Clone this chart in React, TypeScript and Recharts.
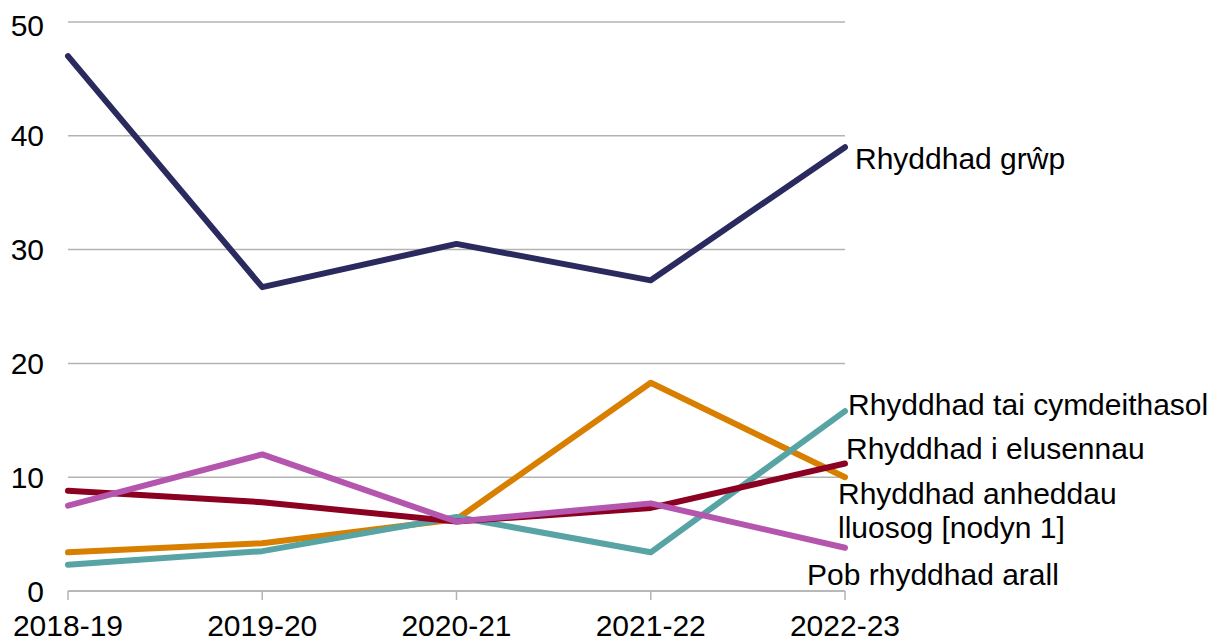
import React from "react";
import { LineChart, Line, XAxis, YAxis, CartesianGrid } from "recharts";

const years = ["2018-19", "2019-20", "2020-21", "2021-22", "2022-23"];
const grwp = [47, 26.7, 30.5, 27.3, 39];
const anheddau = [3.4, 4.2, 6.3, 18.3, 10];
const taiCymdeithasol = [2.3, 3.5, 6.5, 3.4, 15.8];
const elusennau = [8.8, 7.8, 6.1, 7.3, 11.2];
const arall = [7.5, 12, 6.1, 7.7, 3.8];
const yTicks = [0, 10, 20, 30, 40, 50];

const data = years.map((y, i) => ({
  year: y,
  grwp: grwp[i],
  anheddau: anheddau[i],
  tai: taiCymdeithasol[i],
  elusennau: elusennau[i],
  arall: arall[i],
}));

const FONT = "'Liberation Sans', Arial, sans-serif";
const FS = 30;

const series = [
  { key: "grwp", color: "#2b2a5e", label: ["Rhyddhad grŵp"], dx: 10, dy: 11 },
  { key: "anheddau", color: "#d97f00", label: ["Rhyddhad anheddau", "lluosog [nodyn 1]"], dx: -7, dy: 16 },
  { key: "tai", color: "#58a4a4", label: ["Rhyddhad tai cymdeithasol"], dx: 3, dy: -7 },
  { key: "elusennau", color: "#8c0022", label: ["Rhyddhad i elusennau"], dx: 1, dy: -16 },
  { key: "arall", color: "#b455ae", label: ["Pob rhyddhad arall"], dx: -38, dy: 26 },
];

const makeLabel = (s: any) => (props: any) => {
  const { x, y, index } = props;
  if (index !== years.length - 1) return null;
  return (
    <text
      key={s.key + "lbl"}
      x={x + s.dx}
      y={y + s.dy}
      fontSize={FS}
      fontFamily={FONT}
      fill="#000"
      dominantBaseline="central"
    >
      {s.label.map((l: string, i: number) => (
        <tspan key={i} x={x + s.dx} dy={i === 0 ? 0 : 34}>
          {l}
        </tspan>
      ))}
    </text>
  );
};

export default function App() {
  return (
    <div style={{ width: 1217, height: 632, overflow: "hidden" }}>
      <LineChart
        width={1217}
        height={632}
        data={data}
        margin={{ top: 14, right: 380, left: 0, bottom: 0 }}
      >
        <CartesianGrid vertical={false} stroke="#b3b3b3" strokeWidth={1.5} />
        <XAxis
          dataKey="year"
          height={49}
          stroke="#b3b3b3"
          strokeWidth={1.5}
          tickSize={9}
          tickMargin={15}
          tick={{ fill: "#000", fontSize: FS, fontFamily: FONT }}
          padding={{ left: 0, right: 0 }}
          interval={0}
        />
        <YAxis
          width={60}
          domain={[0, 50]}
          ticks={yTicks}
          axisLine={false}
          tickLine={false}
          tickSize={0}
          tickMargin={24}
          tick={{ fill: "#000", fontSize: FS, fontFamily: FONT }}
        />
        {series.map((s) => (
          <Line
            key={s.key}
            type="linear"
            dataKey={s.key}
            stroke={s.color}
            strokeWidth={6}
            strokeLinecap="round"
            strokeLinejoin="round"
            dot={false}
            activeDot={false}
            isAnimationActive={false}
            label={makeLabel(s)}
          />
        ))}
      </LineChart>
    </div>
  );
}
